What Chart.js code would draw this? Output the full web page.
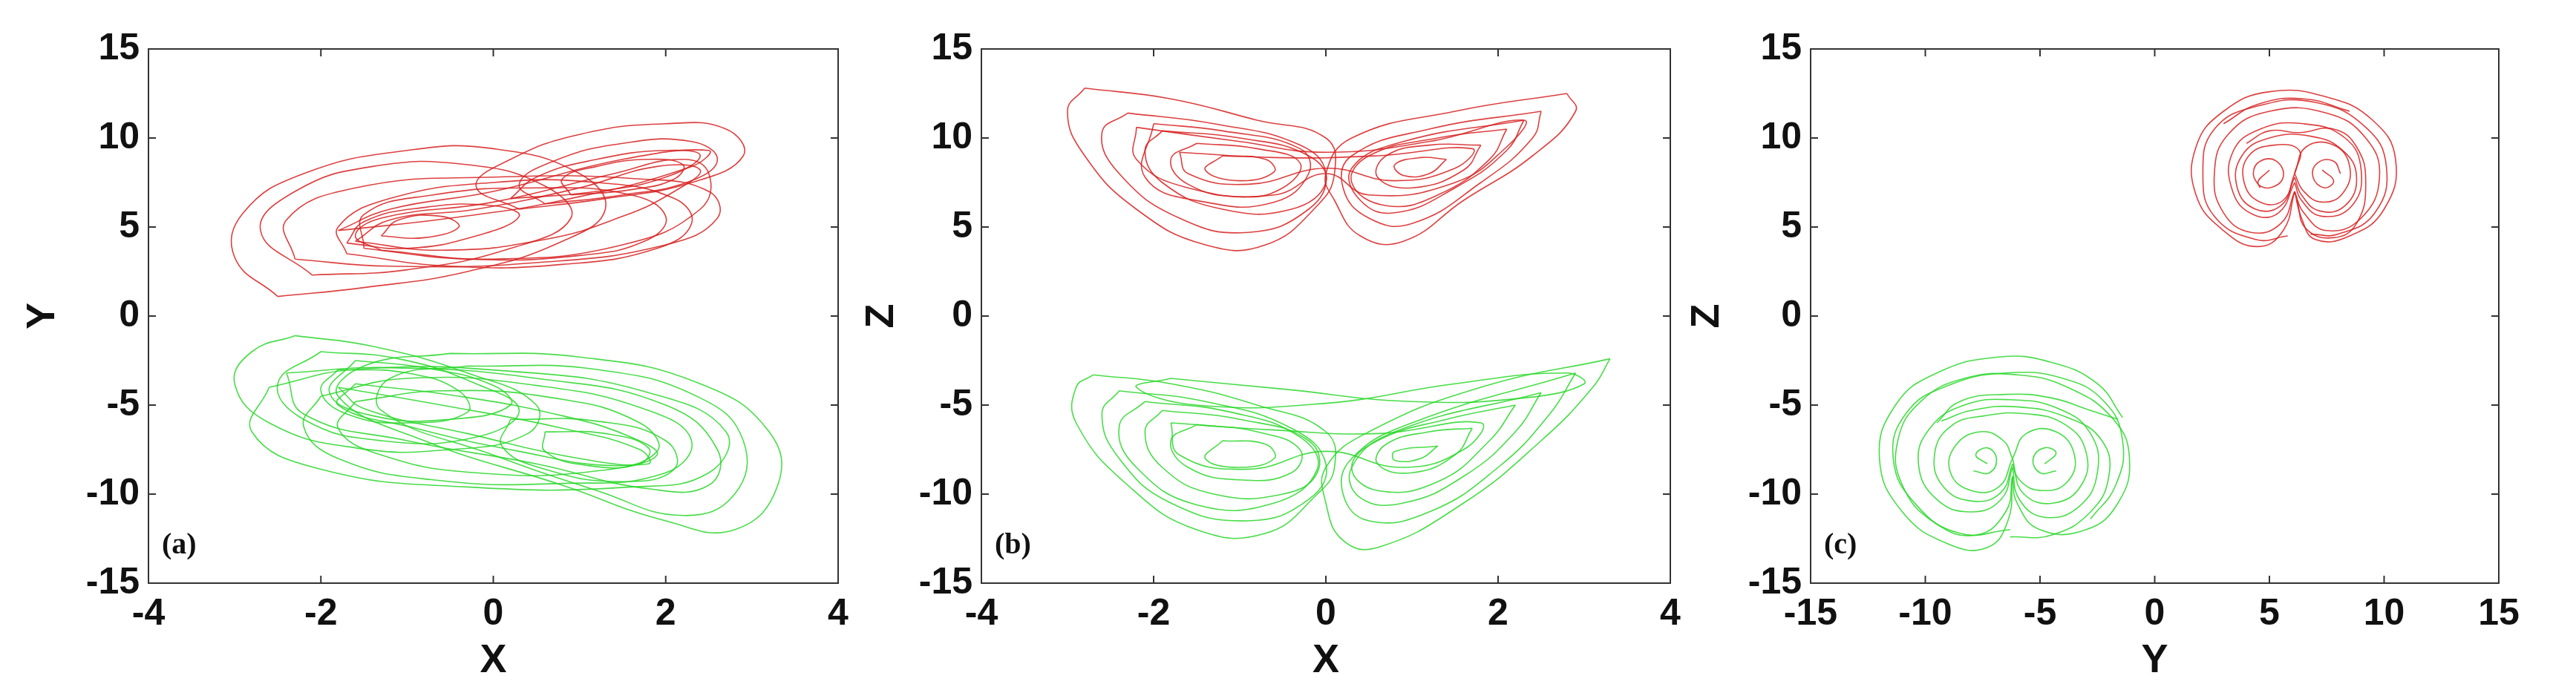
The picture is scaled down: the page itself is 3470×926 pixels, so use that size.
<!DOCTYPE html>
<html>
<head>
<meta charset="utf-8">
<script src="https://cdn.jsdelivr.net/npm/chart.js@4.4.0/dist/chart.umd.min.js"></script>
<style>
  body { margin: 0; background: #fff; width: 3470px; height: 926px; position: relative; overflow: hidden; }
  .panel { position: absolute; top: 0; height: 926px; }
</style>
</head>
<body>
<div class="panel" style="left:0;width:1150px"><canvas id="chartA"></canvas></div>
<div class="panel" style="left:1150px;width:1140px"><canvas id="chartB"></canvas></div>
<div class="panel" style="left:2260px;width:1210px"><canvas id="chartC"></canvas></div>
<script>
// tick labels
const xyTicks = [-4, -2, 0, 2, 4];
const yzTicks = [-15, -10, -5, 0, 5, 10, 15];

// panel (a): X-Y projection, traced loops [x, y]
const redXY = [
  [[-2.5,1.1],[-1.5,1.6],[-0.3,2.5],[0.8,4.2],[1.3,6],[1,8],[0,9.4],[-1,9.3],[-2.2,8],[-2.9,5.8],[-3,3.3],[-2.5,1.1]],
  [[-2.1,2.3],[-1,2.6],[0.2,3.8],[0.9,5.5],[0.6,7.3],[-0.3,8.5],[-1.4,8.4],[-2.3,7],[-2.7,4.8],[-2.1,2.3]],
  [[0.3,6],[1.3,6.6],[2.3,7.5],[2.9,9],[2.7,10.5],[2,10.8],[1,10.2],[0.2,8.8],[-0.2,7.3],[0.3,6]],
  [[0.6,6.3],[1.5,6.8],[2.3,7.6],[2.6,8.8],[2.3,9.8],[1.5,9.7],[0.7,8.7],[0.3,7.4],[0.6,6.3]],
  [[0.9,6.8],[1.6,7.1],[2.1,7.7],[2.2,8.5],[1.8,8.8],[1.2,8.4],[0.8,7.7],[0.9,6.8]],
  [[-1.7,3.5],[-0.5,2.8],[0.8,2.9],[1.9,3.8],[2.3,5.2],[2.1,6.6],[1.2,7.5],[0,7.5],[-1.2,6.6],[-1.8,5],[-1.7,3.5]],
  [[-1.5,3.8],[-0.3,3.2],[1,3.4],[1.8,4.3],[2,5.6],[1.6,6.8],[0.5,7.2],[-0.7,6.8],[-1.5,5.7],[-1.5,3.8]],
  [[-1.7,4.1],[-1,3.8],[-0.2,4.5],[0.3,5.6],[0,6.2],[-0.8,6.1],[-1.5,5.3],[-1.7,4.1]],
  [[-1.3,4.5],[-0.8,4.4],[-0.4,5],[-0.6,5.6],[-1.1,5.4],[-1.3,4.5]],
  [[-1.8,4.8],[-0.5,5.5],[0.8,6.5],[2.3,8.4],[2.5,9.3],[1.5,8.8],[0,7],[-1.2,6],[-1.8,4.8]],
  [[-1.3,3.7],[0,3.2],[1.5,4],[2.4,6],[2.5,8],[2.2,8.8],[1.4,8.0],[0,6.4],[-1.3,5.5],[-1.6,4.5],[-1.3,3.7]],
  [[-1.6,4.2],[-0.6,3.7],[0.6,4.3],[1.5,5.6],[2.1,7],[2.4,8.2],[1.9,8.4],[1,7.2],[-0.2,6],[-1.2,5.4],[-1.6,4.2]],
  [[-2.3,3.2],[-1.2,2.8],[0.5,3],[2,4],[2.6,5.5],[2.5,7],[1.7,7.7],[0,7.8],[-1.6,7.2],[-2.4,5.4],[-2.3,3.2]],
  [[0.2,6.6],[1.2,7],[2,7.8],[2.4,9],[2,9.3],[1.2,8.8],[0.5,7.8],[0.2,6.6]]
];
const greenXY = [
  [[-0.5,-2.1],[1,-2.3],[2.4,-3.8],[3.2,-6.5],[3.3,-9.5],[2.8,-12],[2,-11.5],[0.8,-9.5],[-0.8,-7],[-1.8,-4.5],[-1.5,-2.8],[-0.5,-2.1]],
  [[-0.3,-2.8],[1.2,-3],[2.4,-4.6],[2.9,-7],[2.8,-10],[2.2,-11.2],[1.2,-9.8],[0,-7.8],[-1.3,-5.3],[-1.2,-3.5],[-0.3,-2.8]],
  [[-2.3,-1.1],[-1.4,-1.7],[-0.3,-3.2],[0.5,-5],[0.4,-6.6],[-0.5,-7.5],[-1.6,-7.4],[-2.6,-6],[-3,-3.8],[-2.8,-2],[-2.3,-1.1]],
  [[-2,-2],[-1.1,-2.4],[-0.2,-3.8],[0.3,-5.3],[-0.2,-6.8],[-1.3,-7],[-2.2,-5.8],[-2.5,-3.8],[-2,-2]],
  [[-1.8,-3],[-1,-3.2],[-0.4,-4.2],[-0.3,-5.4],[-1,-6],[-1.7,-5.5],[-2,-4.2],[-1.8,-3]],
  [[-2,-4.5],[-1,-3.5],[0.5,-3.9],[1.8,-5.3],[2.3,-7],[2,-8.8],[0.8,-9.4],[-0.7,-9.2],[-1.8,-8],[-2.2,-6.2],[-2,-4.5]],
  [[-1.6,-4.8],[-0.6,-4.2],[0.7,-4.6],[1.7,-6],[1.9,-7.6],[1.2,-8.7],[-0.2,-8.8],[-1.3,-7.8],[-1.8,-6.3],[-1.6,-4.8]],
  [[0.6,-6.5],[1.3,-6.6],[1.8,-7.4],[1.7,-8.3],[1.1,-8.4],[0.6,-7.6],[0.6,-6.5]],
  [[0.2,-5.8],[1.2,-5.9],[2,-7],[2.1,-8.6],[1.5,-9.3],[0.6,-8.6],[0.1,-7.3],[0.2,-5.8]],
  [[-1.8,-4],[-0.6,-5],[0.8,-6.3],[1.7,-7.5],[1.8,-8.3],[1,-8],[-0.3,-6.6],[-1.5,-5.2],[-1.8,-4]],
  [[-2.4,-3.2],[-1.2,-2.9],[0.5,-3.5],[2,-5],[2.6,-7.5],[2.5,-9.5],[1.8,-9.7],[0.5,-8.3],[-1,-7],[-2.2,-5.5],[-2.4,-3.2]],
  [[-1.6,-3.8],[-0.4,-4.5],[0.8,-5.6],[1.6,-6.8],[1.9,-7.8],[1.4,-8.4],[0.3,-7.6],[-0.9,-6.3],[-1.8,-5],[-1.6,-3.8]],
  [[-2.6,-4],[-1.6,-3],[0.2,-3.1],[1.8,-4.3],[2.7,-6.5],[2.5,-8.8],[1.6,-9.6],[-0.3,-9.6],[-2,-8.6],[-2.8,-6.5],[-2.6,-4]],
  [[-1.6,-2.5],[-0.8,-2.9],[0,-3.9],[0.2,-5],[-0.5,-5.8],[-1.4,-5.6],[-1.9,-4.3],[-1.6,-2.5]]
];

// panel (b): X-Z projection [x, z]
const redXZ = [
  [[-2.8,12.8],[-1.8,12.2],[-0.8,11],[0,10],[0.1,8],[-0.1,6.2],[-0.7,4],[-1.4,4],[-2.2,6],[-2.8,9],[-3,11.5],[-2.8,12.8]],
  [[-2.3,11.4],[-1.3,10.8],[-0.3,9.6],[0,8],[-0.2,6],[-0.9,4.7],[-1.7,5.5],[-2.4,8],[-2.6,10.3],[-2.3,11.4]],
  [[-1.9,10.4],[-1,10],[-0.2,9],[0,7.5],[-0.4,6],[-1.2,6],[-1.9,7.5],[-2.1,9.3],[-1.9,10.4]],
  [[-1.5,9.7],[-0.8,9.4],[-0.3,8.6],[-0.5,7.2],[-1,6.7],[-1.6,7.4],[-1.8,8.8],[-1.5,9.7]],
  [[-1.2,9],[-0.7,8.8],[-0.6,8.1],[-1,7.6],[-1.4,8.2],[-1.2,9]],
  [[2.8,12.5],[2.9,11.5],[2.4,9],[1.6,6.5],[0.9,4.2],[0.4,4.5],[0.1,6.5],[0,8],[0.3,10],[1.5,11.5],[2.8,12.5]],
  [[2.5,11.5],[2.4,10],[1.8,7.5],[1,5.2],[0.5,5.5],[0.2,7.2],[0.3,9],[1.2,10.5],[2.5,11.5]],
  [[2.1,10.5],[1.9,8.8],[1.3,6.8],[0.7,6.2],[0.3,7.5],[0.5,9],[1.3,10],[2.1,10.5]],
  [[1.8,9.6],[1.6,8.2],[1,7.2],[0.6,7.8],[0.7,9],[1.2,9.6],[1.8,9.6]],
  [[1.4,8.8],[1.2,8],[0.9,7.9],[0.8,8.5],[1.1,8.9],[1.4,8.8]],
  [[-2.2,10.6],[-1,9.8],[0,9.2],[1.2,9.8],[2.3,11],[2.1,9.5],[1.5,7.5],[0.5,6.8],[0,8],[-0.6,6.8],[-1.6,7.2],[-2.2,8.8],[-2.2,10.6]],
  [[-2,10.8],[-1.2,10.4],[-0.3,9.4],[-0.2,8],[-0.6,6.4],[-1.4,6.4],[-2.1,7.8],[-2,10.8]],
  [[2.3,11],[2.1,9.3],[1.5,7.2],[0.8,5.8],[0.4,6.5],[0.3,8.3],[0.9,9.8],[2.3,11]],
  [[-1.7,9.2],[-0.6,8.9],[0.6,9],[1.7,9.4],[1.5,8.3],[0.8,7.6],[0,8.3],[-0.9,7.4],[-1.6,8],[-1.7,9.2]]
];
const greenXZ = [
  [[-2.7,-3.3],[-1.8,-3.8],[-0.8,-5],[0,-6.5],[0.1,-8.5],[-0.1,-10],[-0.7,-12.2],[-1.5,-12],[-2.3,-9.5],[-2.9,-6],[-2.9,-4],[-2.7,-3.3]],
  [[-2.4,-4.2],[-1.4,-4.8],[-0.4,-6.3],[0,-8.3],[-0.2,-10.3],[-0.9,-11.5],[-1.8,-10.5],[-2.4,-8],[-2.6,-5.5],[-2.4,-4.2]],
  [[-1.9,-5.3],[-1,-5.8],[-0.2,-7],[-0.1,-8.8],[-0.5,-10],[-1.3,-10],[-1.9,-8.5],[-2.1,-6.5],[-1.9,-5.3]],
  [[-1.5,-6.1],[-0.8,-6.5],[-0.3,-7.5],[-0.4,-8.8],[-1,-9.2],[-1.6,-8.5],[-1.8,-7],[-1.5,-6.1]],
  [[-1.2,-7],[-0.7,-7.2],[-0.6,-8],[-1,-8.5],[-1.4,-8],[-1.2,-7]],
  [[3.3,-2.4],[3.1,-4],[2.5,-7],[1.6,-10.5],[0.6,-13],[0.2,-12.6],[0,-10.5],[0,-8.5],[0.5,-6.5],[1.8,-4],[3.3,-2.4]],
  [[2.9,-3.2],[2.6,-5.5],[2,-8.5],[1.2,-11],[0.5,-11.5],[0.2,-10],[0.3,-8],[1,-6],[2.9,-3.2]],
  [[2.2,-5],[1.9,-7],[1.3,-9.3],[0.6,-9.8],[0.3,-8.5],[0.6,-7],[1.4,-5.8],[2.2,-5]],
  [[1.7,-6.3],[1.5,-7.8],[1,-8.8],[0.6,-8.3],[0.7,-7.2],[1.2,-6.5],[1.7,-6.3]],
  [[1.3,-7.3],[1.1,-8],[0.8,-8.1],[0.8,-7.6],[1.3,-7.3]],
  [[-1.8,-3.5],[-0.5,-4.1],[1,-4.8],[2.3,-4.6],[3,-3.8],[2.8,-3.2],[1.5,-3.8],[0,-4.9],[-1.5,-5],[-2.2,-4],[-1.8,-3.5]],
  [[-2.1,-4.8],[-1.1,-5.4],[-0.3,-6.8],[-0.1,-8.6],[-0.6,-10.5],[-1.5,-10.6],[-2.2,-8.5],[-2.4,-6.2],[-2.1,-4.8]],
  [[2.5,-4.3],[2.2,-6.5],[1.6,-9],[0.9,-10.5],[0.4,-10.2],[0.3,-8.5],[0.8,-6.5],[2.5,-4.3]],
  [[-1.8,-6],[-0.6,-6.4],[0.6,-6.6],[1.8,-6],[1.6,-7.5],[0.9,-8.5],[0,-7.6],[-0.9,-8.6],[-1.7,-7.8],[-1.8,-6]]
];

// panel (c): Y-Z projection [y, z]
const redYZ = [
  [[6.1,7],[5.6,4.8],[4.5,3.9],[3,4.8],[1.8,6.8],[1.8,9.5],[3,11.5],[5,12.6],[7.5,12.3],[9.5,11],[10.5,8.8],[10,6],[8.5,4.5],[7,4.3],[6.4,5.5],[6.1,7]],
  [[6.1,7],[5.5,5.2],[4.2,4.7],[3,5.8],[2.6,8],[3.2,10.2],[5,11.5],[7.5,11.4],[9.2,10],[9.8,7.8],[9,5.5],[7.5,4.8],[6.5,5.8],[6.1,7]],
  [[6.1,7.5],[5.4,5.8],[4.3,5.7],[3.4,7],[3.4,9.2],[4.6,10.5],[6.5,10.8],[8.3,10],[9,8.2],[8.6,6.2],[7.3,5.6],[6.4,6.5],[6.1,7.5]],
  [[6.1,8],[5.6,6.5],[4.6,6.4],[3.9,7.5],[4.1,9],[5.2,9.6],[6.3,9.3],[6.1,8]],
  [[6.1,8],[6.6,9.5],[7.8,9.6],[8.5,8.4],[8.2,6.9],[7.3,6.4],[6.5,7],[6.1,8]],
  [[5,8.2],[4.5,7.5],[5,7.2],[5.6,7.8],[5.3,8.7],[4.6,8.7],[4.3,8],[4.6,7.2]],
  [[7.3,8.2],[7.8,7.6],[7.4,7.2],[6.9,7.8],[7.1,8.6],[7.8,8.7],[8.1,8]],
  [[3,10.8],[4.5,11.9],[6.5,12.2],[8.5,11.5]],
  [[4,9.7],[5,10.4],[6.3,10.3],[7.8,10.5],[8.8,9.5],[9.2,7.5],[8.8,5.2],[7.8,4.4],[6.6,4.9],[6.2,6.5]],
  [[6.1,7.8],[5.5,6.2],[4.4,6],[3.6,7.2],[3.8,9],[5,10],[6.8,10.1],[8.2,9.3],[8.8,7.8],[8.3,6.2],[7.2,5.9],[6.4,6.8],[6.1,7.8]],
  [[5.8,4.5],[4.4,4.3],[2.6,5.6],[2.1,8],[2.6,10.5],[4.5,11.8],[7,12],[9.2,10.6],[10.1,8.4],[9.6,5.8],[8,4.6],[6.8,4.6]]
];
const greenYZ = [
  [[-6.2,-9],[-6.4,-11.5],[-7.3,-13],[-9,-12.8],[-11,-11],[-12,-8],[-11.3,-5],[-9.5,-3.2],[-6.8,-2.3],[-4.5,-2.6],[-2.5,-3.8],[-1.4,-5.7]],
  [[-6.2,-9],[-6.5,-11],[-7.8,-12.3],[-9.6,-11.6],[-11,-9.5],[-11.2,-7],[-10.2,-4.8],[-8.3,-3.5],[-6,-3.3],[-3.8,-4],[-1.8,-5.8],[-1.1,-8],[-1.6,-10.5],[-3,-12],[-5,-12],[-6,-10.5],[-6.2,-9]],
  [[-6.2,-8.5],[-6.7,-10.3],[-8,-11],[-9.5,-10.3],[-10.3,-8.3],[-9.8,-6.3],[-8.3,-5],[-6.3,-4.7],[-4.2,-5.2],[-2.8,-6.6],[-2.5,-8.8],[-3.3,-10.7],[-4.8,-11.3],[-5.9,-10.3],[-6.2,-8.5]],
  [[-6.2,-8],[-6.8,-9.6],[-8,-9.8],[-8.9,-8.8],[-8.7,-7.3],[-7.6,-6.5],[-6.6,-7],[-6.2,-8]],
  [[-6.2,-8],[-5.6,-6.6],[-4.3,-6.5],[-3.5,-7.8],[-3.8,-9.3],[-4.9,-9.8],[-5.9,-9.2],[-6.2,-8]],
  [[-7.3,-8.3],[-7.8,-7.8],[-7.3,-7.4],[-6.9,-8],[-7.2,-8.8],[-7.9,-8.7]],
  [[-4.8,-8.3],[-4.3,-7.7],[-4.8,-7.4],[-5.3,-8],[-5,-8.8],[-4.3,-8.7]],
  [[-9.5,-6],[-8.5,-4.8],[-6.5,-4.4],[-4.5,-4.6],[-2.8,-5.3],[-1.6,-5.8]],
  [[-9.3,-5.9],[-8,-5.3],[-6,-5.1],[-3.8,-5.7],[-2.3,-7],[-2,-9],[-2.8,-11],[-4.5,-12.3],[-6.3,-12.4]],
  [[-6.2,-8.3],[-6.7,-9.9],[-7.9,-10.4],[-9.2,-9.6],[-9.6,-7.8],[-8.9,-6.2],[-7.4,-5.6],[-5.5,-5.5],[-3.9,-6.1],[-3,-7.6],[-3.2,-9.5],[-4.4,-10.5],[-5.7,-10],[-6.2,-8.3]],
  [[-6.3,-12],[-8.5,-12.2],[-10.4,-10.6],[-11.4,-8],[-10.8,-5.4],[-9,-3.9],[-6.5,-3.2],[-4,-3.5],[-2.2,-4.8],[-1.4,-7],[-1.7,-9.5],[-2.8,-11.4]]
];

const FONT = "'Liberation Sans Narrow', 'Liberation Sans', Arial, sans-serif";

function loopsToDatasets(loops, color) {
  return loops.map(l => ({
    data: l.map(p => ({ x: p[0], y: p[1] })),
    showLine: true,
    borderColor: color,
    borderWidth: 1.6,
    pointRadius: 0,
    tension: 0.45,
    fill: false
  }));
}

const framePlugin = {
  id: 'frame',
  afterDraw(chart, args, opts) {
    const { ctx, chartArea: a, scales } = chart;
    ctx.save();
    ctx.strokeStyle = '#333';
    ctx.lineWidth = 2;
    ctx.strokeRect(a.left, a.top, a.right - a.left, a.bottom - a.top);
    const L = 10;
    scales.x.ticks.forEach(t => {
      const px = scales.x.getPixelForValue(t.value);
      ctx.beginPath();
      ctx.moveTo(px, a.bottom); ctx.lineTo(px, a.bottom - L);
      ctx.moveTo(px, a.top); ctx.lineTo(px, a.top + L);
      ctx.stroke();
    });
    scales.y.ticks.forEach(t => {
      const py = scales.y.getPixelForValue(t.value);
      ctx.beginPath();
      ctx.moveTo(a.left, py); ctx.lineTo(a.left + L, py);
      ctx.moveTo(a.right, py); ctx.lineTo(a.right - L, py);
      ctx.stroke();
    });
    ctx.fillStyle = '#111';
    ctx.font = "bold 40px 'Liberation Serif', 'DejaVu Serif', serif";
    ctx.textBaseline = 'middle';
    ctx.fillText(opts.label, a.left + 18, a.bottom - 50);
    ctx.restore();
  }
};

function makeChart(id, datasets, xr, xStep, xTitle, yTitle, yWidth, yTitlePad, rightPad, label) {
  new Chart(document.getElementById(id), {
    type: 'scatter',
    data: { datasets },
    options: {
      responsive: true,
      maintainAspectRatio: false,
      animation: false,
      layout: { padding: { top: 66, right: rightPad, left: 0, bottom: 0 } },
      scales: {
        x: {
          min: xr[0], max: xr[1],
          ticks: { stepSize: xStep, color: '#111', padding: 4, font: { family: FONT, size: 50, weight: 'bold' } },
          grid: { display: false },
          border: { display: false },
          title: { display: true, text: xTitle, color: '#111', padding: { top: 0, bottom: 2 }, font: { family: FONT, size: 54, weight: 'bold' } },
          afterFit(s) { s.height = 140; }
        },
        y: {
          min: -15, max: 15,
          ticks: { stepSize: 5, color: '#111', padding: 4, font: { family: FONT, size: 50, weight: 'bold' } },
          grid: { display: false },
          border: { display: false },
          title: { display: true, text: yTitle, color: '#111', padding: yTitlePad, font: { family: FONT, size: 54, weight: 'bold' } },
          afterFit(s) { s.width = yWidth; }
        }
      },
      plugins: {
        legend: { display: false },
        tooltip: { enabled: false },
        frame: { label }
      }
    },
    plugins: [framePlugin]
  });
}

const RED = 'rgba(215, 30, 30, 0.85)';
const GREEN = 'rgba(40, 215, 40, 0.85)';

makeChart('chartA', loopsToDatasets(redXY, RED).concat(loopsToDatasets(greenXY, GREEN)),
  [xyTicks[0], xyTicks[4]], 2, 'X', 'Y', 200, 26, 21, '(a)');
makeChart('chartB', loopsToDatasets(redXZ, RED).concat(loopsToDatasets(greenXZ, GREEN)),
  [xyTicks[0], xyTicks[4]], 2, 'X', 'Z', 172, 6, 40, '(b)');
makeChart('chartC', loopsToDatasets(redYZ, RED).concat(loopsToDatasets(greenYZ, GREEN)),
  [yzTicks[0], yzTicks[6]], 5, 'Y', 'Z', 179, 8, 104, '(c)');
</script>
</body>
</html>
